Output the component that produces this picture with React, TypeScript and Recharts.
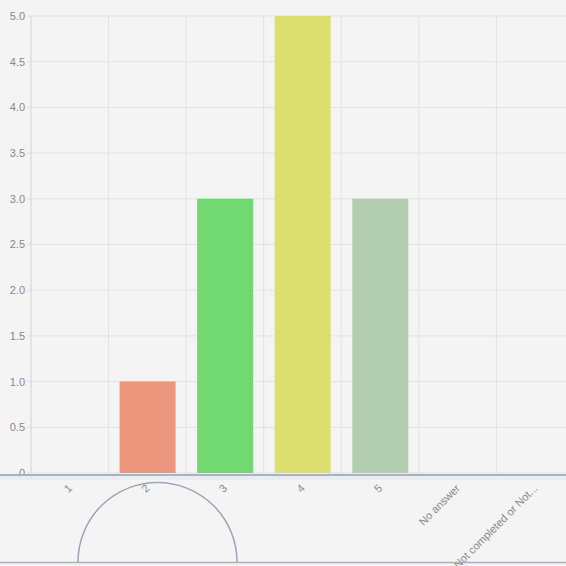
import { BarChart, Bar, XAxis, YAxis, CartesianGrid, Cell } from "recharts";

const categories = ["1", "2", "3", "4", "5", "No answer", "Not completed or Not..."];
const counts = [0, 1, 3, 5, 3, 0, 0];
const barColors = ["#ec967e", "#ec967e", "#72d972", "#dcde6e", "#b2cdb0", "#cccccc", "#cccccc"];
const yTicks = [0, 0.5, 1, 1.5, 2, 2.5, 3, 3.5, 4, 4.5, 5];

const data = categories.map((name, i) => ({ name, count: counts[i] }));

const FONT = "'Liberation Sans', Arial, sans-serif";

function XTick({ x, y, payload }: { x?: number; y?: number; payload?: { value: string } }) {
  return (
    <text
      x={(x ?? 0) + 3}
      y={(y ?? 0) + 8}
      transform={`rotate(-45, ${(x ?? 0) + 3}, ${(y ?? 0) + 8})`}
      textAnchor="end"
      fontSize={11}
      fontFamily={FONT}
      fill="#888"
    >
      {payload?.value}
    </text>
  );
}

export default function App() {
  const W = 574;
  const H = 566;
  return (
    <div
      style={{
        position: "fixed",
        inset: 0,
        background: "#f4f4f4",
        overflow: "hidden",
      }}
    >
      <div style={{ position: "absolute", left: 0, top: 0 }}>
        <BarChart
          width={W}
          height={H}
          data={data}
          margin={{ top: 16, right: 0, left: 0, bottom: 0 }}
          barCategoryGap={11}
        >
          <CartesianGrid
            stroke="#e2e2e2"
            verticalCoordinatesGenerator={({ offset }: any) =>
              categories.map((_, i) => offset.left + (i * offset.width) / categories.length)
            }
          />
          <XAxis
            dataKey="name"
            interval={0}
            height={93}
            axisLine={false}
            tickLine={false}
            tick={<XTick />}
          />
          <YAxis
            width={31}
            domain={[0, 5]}
            ticks={yTicks}
            interval={0}
            tickFormatter={(v: number) => (v === 0 ? "0" : v.toFixed(1))}
            tick={{ fontSize: 11, fill: "#888", fontFamily: FONT }}
            axisLine={{ stroke: "#dcdcdc" }}
            tickLine={{ stroke: "#dcdcdc" }}
            tickSize={4}
          />
          <Bar dataKey="count" barSize={56} isAnimationActive={false}>
            {data.map((_, i) => (
              <Cell key={i} fill={barColors[i]} />
            ))}
          </Bar>
        </BarChart>
      </div>
      <svg
        width={566}
        height={566}
        style={{ position: "absolute", left: 0, top: 0, pointerEvents: "none" }}
      >
        <rect x={0} y={476} width={566} height={4} fill="#e9ecf0" />
        <line x1={0} x2={566} y1={475} y2={475} stroke="#a9b2c0" strokeWidth={2} />
        <line x1={0} x2={566} y1={562.5} y2={562.5} stroke="#a9b2c0" strokeWidth={1.5} />
        <path d="M 78 562 A 79.5 79.5 0 0 1 237 562" fill="none" stroke="#9aa5b5" strokeWidth={1.5} />
      </svg>
    </div>
  );
}
